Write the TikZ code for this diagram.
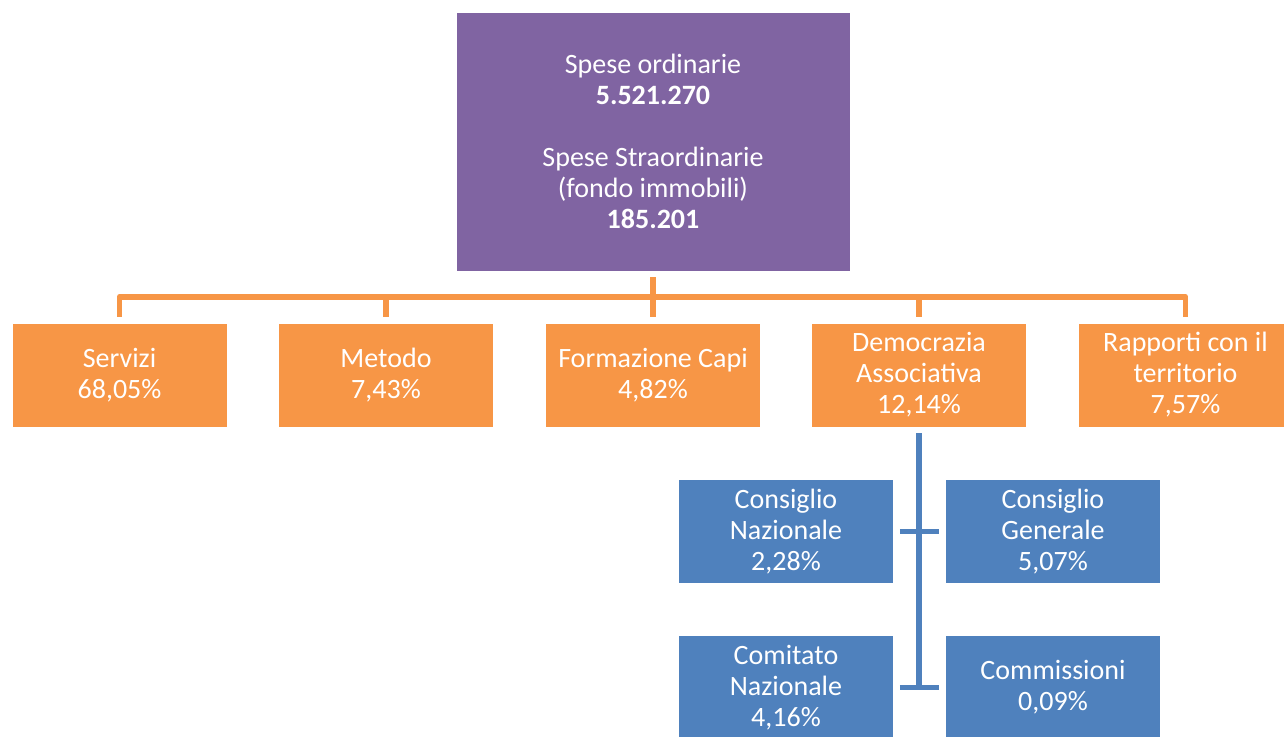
\documentclass[tikz,border=0pt]{standalone}
\usepackage{fontspec}
\setmainfont{Carlito}
\definecolor{ored}{HTML}{F79646}
\definecolor{purp}{HTML}{8064A2}
\definecolor{blu}{HTML}{4F81BD}
\begin{document}
\begin{tikzpicture}[x=1pt,y=-1pt,
  box/.style={draw=white, line width=0.8pt, text=white, align=center, inner sep=0pt,
    font=\fontsize{28}{31}\selectfont},
  obox/.style={box, fill=ored, minimum width=215pt, minimum height=104pt},
  bbox/.style={box, fill=blu, minimum width=215pt, minimum height=104pt},
  pbox/.style={box, fill=purp, minimum width=394pt, minimum height=259pt},
  oline/.style={draw=ored, line width=5.5pt, line join=round},
  bline/.style={draw=blu, line width=5.5pt}]
\useasboundingbox (0,0) rectangle (1284,736);
\clip (0,0) rectangle (1284,736);
\fill[white] (0,0) rectangle (1284,736);
\node[pbox] (top) at (653,141.5) {Spese ordinarie\\ \textbf{5.521.270}\\[31pt] Spese Straordinarie\\ (fondo immobili)\\ \textbf{185.201}};
\node[obox] (serv) at (119.5,375) {Servizi\\ 68,05\%};
\node[obox] (met) at (386,375) {Metodo\\ 7,43\%};
\node[obox] (form) at (653,375) {Formazione Capi\\ 4,82\%};
\node[obox] (demo) at (919,375) {Democrazia\\ Associativa\\ 12,14\%};
\node[obox] (rapp) at (1185.5,375) {Rapporti con il\\ territorio\\ 7,57\%};
\node[bbox] (cn) at (786,531.5) {Consiglio\\ Nazionale\\ 2,28\%};
\node[bbox] (cg) at (1053,531.5) {Consiglio\\ Generale\\ 5,07\%};
\node[bbox] (cmt) at (786,687.5) {Comitato\\ Nazionale\\ 4,16\%};
\node[bbox] (cms) at (1053,687.5) {Commissioni\\ 0,09\%};
\foreach \c in {serv,met,form,demo,rapp}
  \draw[oline, shorten <=6pt, shorten >=6pt] (top.south) -- ++(0,25.5) -| (\c.north);
\draw[bline, shorten <=6pt] (demo.south) -- (demo.south |- cmt.east);
\draw[bline, shorten <=6pt, shorten >=6pt] (cn.east) -- (cg.west);
\draw[bline, shorten <=6pt, shorten >=6pt] (cmt.east) -- (cms.west);
\end{tikzpicture}
\end{document}
